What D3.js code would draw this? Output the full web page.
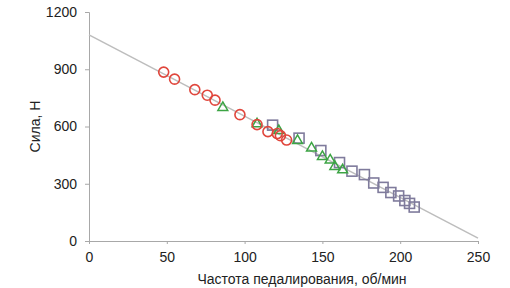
<!DOCTYPE html>
<html>
<head>
<meta charset="utf-8">
<script src="https://cdn.jsdelivr.net/npm/d3@7"></script>
<style>
  body { margin: 0; background: #fff; }
  svg { display: block; font-family: "Liberation Sans", Arial, sans-serif; }
</style>
</head>
<body>
<div id="chart"></div>
<script>
// данные
const circleX = [48, 55, 68, 76, 81, 97, 108, 115, 121, 123, 127];
const circleY = [885, 848, 793, 764, 738, 662, 610, 573, 563, 552, 529];
const triangleX = [86, 108, 122, 134, 143, 150, 155, 158, 163];
const triangleY = [699, 613, 578, 526, 487, 442, 424, 390, 372];
const squareX = [118, 135, 149, 161, 169, 177, 183, 189, 194, 199, 203, 206, 209];
const squareY = [607, 539, 474, 411, 366, 348, 304, 281, 254, 236, 212, 197, 178];
const lineX = [0, 250];
const lineY = [1080, 15];
const xTicks = [0, 50, 100, 150, 200, 250];
const yTicks = [0, 300, 600, 900, 1200];

const width = 510, height = 288;
const margin = { top: 12, right: 32, bottom: 47, left: 89 };

const svg = d3.select("#chart").append("svg")
    .attr("width", width)
    .attr("height", height);

const x = d3.scaleLinear().domain([0, 250]).range([margin.left, width - margin.right]);
const y = d3.scaleLinear().domain([0, 1200]).range([height - margin.bottom, margin.top]);

// оси
const xAxis = svg.append("g")
    .attr("transform", `translate(0,${y(0)})`)
    .call(d3.axisBottom(x).tickValues(xTicks).tickFormat(d3.format("d")).tickSize(3).tickPadding(8));
const yAxis = svg.append("g")
    .attr("transform", `translate(${x(0)},0)`)
    .call(d3.axisLeft(y).tickValues(yTicks).tickFormat(d3.format("d")).tickSize(4).tickPadding(8));

[xAxis, yAxis].forEach(g => {
    g.select(".domain").attr("stroke", "#a8a8a8");
    g.selectAll(".tick line").attr("stroke", "#a8a8a8");
    g.selectAll(".tick text")
        .attr("fill", "#222")
        .style("font-size", "14px")
        .style("font-family", "'Liberation Sans', Arial, sans-serif");
});

// линия тренда
svg.append("line")
    .attr("x1", x(lineX[0])).attr("y1", y(lineY[0]))
    .attr("x2", x(lineX[1])).attr("y2", y(lineY[1]))
    .attr("stroke", "#bdbdbd")
    .attr("stroke-width", 1.5);

const zip = (xs, ys) => xs.map((v, i) => [v, ys[i]]);

// квадраты
svg.append("g").selectAll("rect")
    .data(zip(squareX, squareY))
    .join("rect")
    .attr("x", d => x(d[0]) - 5)
    .attr("y", d => y(d[1]) - 5)
    .attr("width", 10)
    .attr("height", 10)
    .attr("fill", "none")
    .attr("stroke", "#7f7b9c")
    .attr("stroke-width", 1.6);

// треугольники
const tri = d3.symbol().type(d3.symbolTriangle).size(42);
svg.append("g").selectAll("path")
    .data(zip(triangleX, triangleY))
    .join("path")
    .attr("d", tri)
    .attr("transform", d => `translate(${x(d[0])},${y(d[1])})`)
    .attr("fill", "none")
    .attr("stroke", "#3ca444")
    .attr("stroke-width", 1.5);

// круги
svg.append("g").selectAll("circle")
    .data(zip(circleX, circleY))
    .join("circle")
    .attr("cx", d => x(d[0]))
    .attr("cy", d => y(d[1]))
    .attr("r", 5)
    .attr("fill", "none")
    .attr("stroke", "#e0463c")
    .attr("stroke-width", 1.6);

// подписи осей
svg.append("text")
    .attr("x", 302)
    .attr("y", 284)
    .attr("text-anchor", "middle")
    .attr("fill", "#222")
    .style("font-size", "14px")
    .text("Частота педалирования, об/мин");

svg.append("text")
    .attr("transform", `translate(40,${(y(0) + y(1200)) / 2}) rotate(-90)`)
    .attr("text-anchor", "middle")
    .attr("fill", "#222")
    .style("font-size", "14px")
    .text("Сила, Н");
</script>
</body>
</html>
